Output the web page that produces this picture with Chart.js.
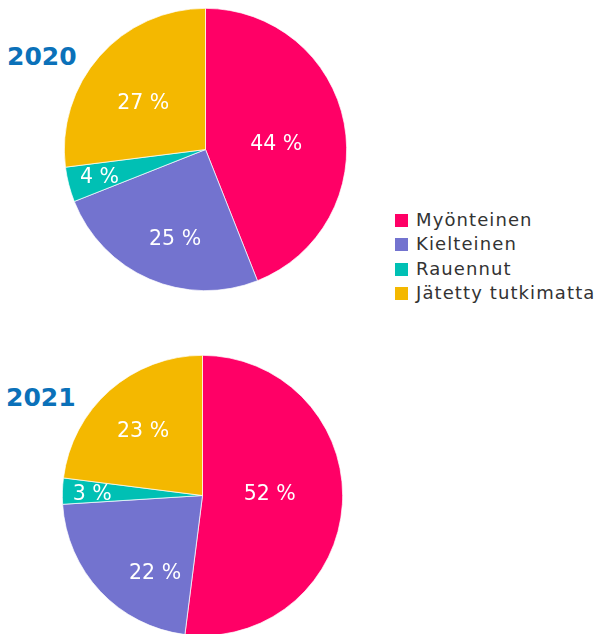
<!DOCTYPE html>
<html>
<head>
<meta charset="utf-8">
<script src="https://cdn.jsdelivr.net/npm/chart.js@4"></script>
<style>
  body { margin: 0; width: 597px; height: 634px; overflow: hidden; background: #fff; font-family: "DejaVu Sans", Verdana, sans-serif; position: relative; }
  .year { position: absolute; font-weight: bold; font-size: 25px; color: #0b71b9; }
  .pie { position: absolute; }
  #legend { position: absolute; left: 395px; top: 208px; color: #333; font-size: 18px; letter-spacing: 1.1px; }
  #legend div { height: 24.4px; line-height: 24px; white-space: nowrap; }
  #legend span { display: inline-block; width: 13px; height: 13px; margin-right: 8px; vertical-align: -1px; }
</style>
</head>
<body>
<div class="year" style="left:7px; top:42px;">2020</div>
<div class="year" style="left:6px; top:383px;">2021</div>
<div class="pie" style="left:64px; top:8px; width:283px; height:283px;"><canvas id="pie2020"></canvas></div>
<div class="pie" style="left:62px; top:355px; width:281px; height:281px;"><canvas id="pie2021"></canvas></div>
<div id="legend"></div>
<script>
const kategoriat = ['Myönteinen', 'Kielteinen', 'Rauennut', 'Jätetty tutkimatta'];
const varit = ['#ff0066', '#7373cf', '#00c0b4', '#f4b800'];
const arvot2020 = [44, 25, 4, 27];
const arvot2021 = [52, 22, 3, 23];

// label placement: distance from centre (share of radius) and angle nudge (deg)
const etaisyys2020 = [0.503, 0.668, 0.776, 0.55];
const kulma2020 = [6.4, -4.6, 0, -4.7];
const etaisyys2021 = [0.48, 0.647, 0.787, 0.625];
const kulma2021 = [-4.9, -15.3, -1, -1.3];

const prosentit = {
  id: 'prosentit',
  afterDatasetsDraw(chart, args, opts) {
    const ctx = chart.ctx;
    const meta = chart.getDatasetMeta(0);
    ctx.save();
    ctx.fillStyle = '#fff';
    ctx.font = '20.5px "DejaVu Sans", Verdana, sans-serif';
    ctx.textAlign = 'center';
    ctx.textBaseline = 'middle';
    meta.data.forEach((arc, i) => {
      const p = arc.getProps(['x', 'y', 'startAngle', 'endAngle', 'outerRadius'], true);
      const a = (p.startAngle + p.endAngle) / 2 + opts.kulma[i] * Math.PI / 180;
      const r = p.outerRadius * opts.etaisyys[i];
      ctx.fillText(chart.data.datasets[0].data[i] + ' %', p.x + Math.cos(a) * r, p.y + Math.sin(a) * r + 1);
    });
    ctx.restore();
  }
};

function piirra(id, arvot, etaisyys, kulma) {
  new Chart(document.getElementById(id), {
    type: 'pie',
    data: {
      labels: kategoriat,
      datasets: [{
        data: arvot,
        backgroundColor: varit,
        borderColor: '#fff',
        borderWidth: 0.7
      }]
    },
    options: {
      responsive: true,
      maintainAspectRatio: false,
      animation: false,
      layout: { padding: 0 },
      plugins: {
        legend: { display: false },
        tooltip: { enabled: false },
        prosentit: { etaisyys: etaisyys, kulma: kulma }
      }
    },
    plugins: [prosentit]
  });
}

piirra('pie2020', arvot2020, etaisyys2020, kulma2020);
piirra('pie2021', arvot2021, etaisyys2021, kulma2021);

// legenda
const legend = document.getElementById('legend');
kategoriat.forEach((k, i) => {
  const rivi = document.createElement('div');
  rivi.innerHTML = '<span style="background:' + varit[i] + '"></span>' + k;
  legend.appendChild(rivi);
});
</script>
</body>
</html>
